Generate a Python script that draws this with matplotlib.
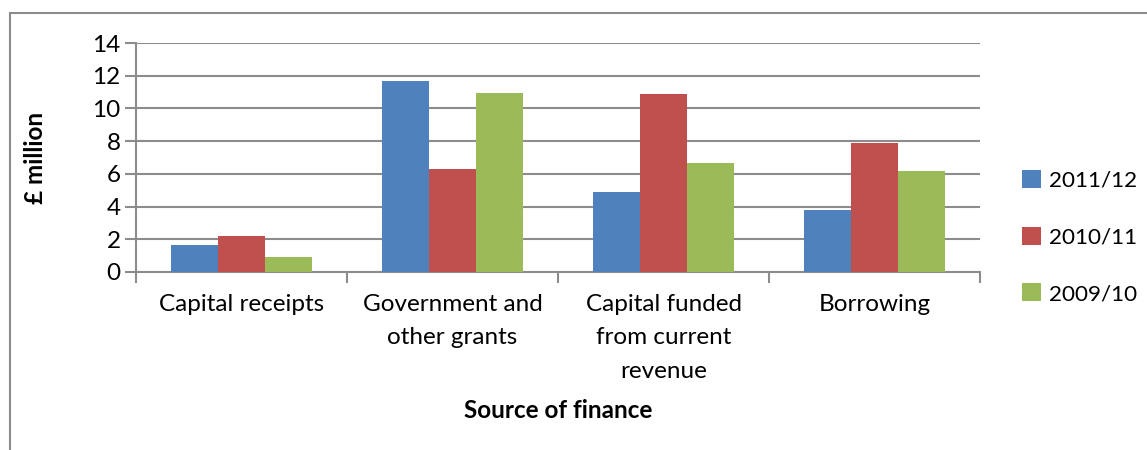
import numpy as np
import matplotlib.pyplot as plt
from matplotlib.patches import Rectangle

plt.rcParams['font.family'] = ['Lato', 'DejaVu Sans']

categories = ['Capital receipts', 'Government and\nother grants',
              'Capital funded\nfrom current\nrevenue', 'Borrowing']
series = ['2011/12', '2010/11', '2009/10']
v_2011 = [1.64, 11.7, 4.91, 3.80]
v_2010 = [2.19, 6.28, 10.9, 7.9]
v_2009 = [0.92, 10.94, 6.65, 6.18]
colors = ['#4F81BD', '#C0504D', '#9BBB59']

FS = 17.5

fig = plt.figure(figsize=(11.47, 4.5), dpi=100)
ax = fig.add_axes([136 / 1147, 1 - 272 / 450, (980 - 136) / 1147, (272 - 43) / 450])

x = np.arange(len(categories))
w = 0.223
for i, (vals, name, c) in enumerate(zip([v_2011, v_2010, v_2009], series, colors)):
    ax.bar(x + (i - 1) * w, vals, w, color=c, label=name, zorder=3)

ax.set_xlim(-0.5, 3.5)
ax.set_ylim(0, 14)
ax.set_yticks(np.arange(0, 15, 2))
ax.yaxis.grid(True, color='#8c8c8c', linewidth=1.5, zorder=0)
for s in ['top', 'right']:
    ax.spines[s].set_visible(False)
for s in ['left', 'bottom']:
    ax.spines[s].set_color('#8c8c8c')
    ax.spines[s].set_linewidth(1.5)

ax.tick_params(axis='y', length=8, width=1.5, color='#8c8c8c', labelsize=FS, pad=3)
ax.set_xticks(np.arange(-0.5, 4, 1))
ax.set_xticklabels([])
ax.tick_params(axis='x', length=8, width=1.5, color='#8c8c8c')
for xi, lab in zip(x, categories):
    ax.text(xi, -1.35, lab, ha='center', va='top', fontsize=FS,
            linespacing=1.72, transform=ax.transData)

ax.set_ylabel('£ million', fontsize=FS, fontweight='bold')
ax.yaxis.set_label_coords(-0.105, 0.5)
fig.text(558 / 1147, 1 - 411 / 450, 'Source of finance', ha='center', va='center',
         fontsize=FS, fontweight='bold')

ax.legend(loc='center left', bbox_to_anchor=(1.05, 0.153), frameon=False,
          fontsize=16.2, handlelength=0.85, handleheight=0.85,
          handletextpad=0.35, labelspacing=1.6, borderpad=0, borderaxespad=0)

# outer chart frame
fig.patches.append(Rectangle((10 / 1147, -0.1), 1.2, 1 - 13 / 450 + 0.1,
                             transform=fig.transFigure, fill=False,
                             edgecolor='#8c8c8c', linewidth=1.5))

fig.savefig('out.png', dpi=100)
